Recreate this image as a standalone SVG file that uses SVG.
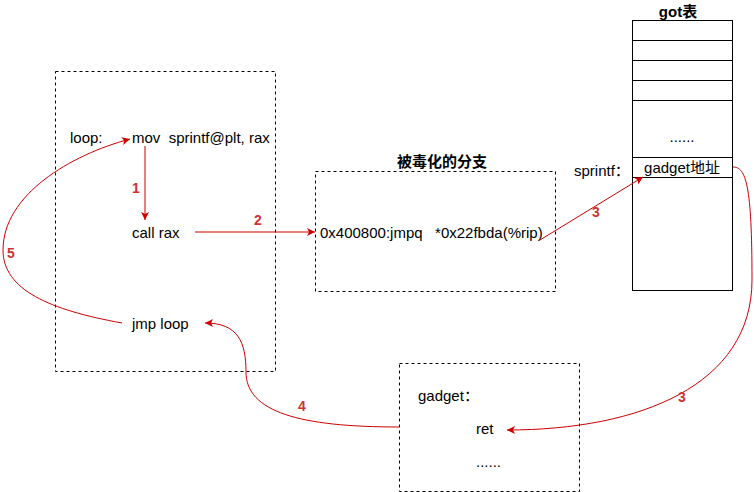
<svg xmlns="http://www.w3.org/2000/svg" width="754" height="492" viewBox="0 0 754 492">
<style>
.t{font-family:"Liberation Sans",Arial,"Noto Sans CJK SC",sans-serif;font-size:15px;fill:#000}
.b{font-weight:bold}
.box{fill:#fff;stroke:#000;stroke-width:1;stroke-dasharray:3,3}
.cell{fill:#fff;stroke:#000;stroke-width:1}
.ln{fill:none;stroke:#CC0000;stroke-width:1}
.lb{font-family:"Liberation Sans",Arial,sans-serif;font-size:14px;font-weight:bold;fill:#CC3333}
</style>
<defs>
<marker id="ah" markerWidth="10" markerHeight="10" refX="8" refY="5" orient="auto" markerUnits="userSpaceOnUse">
<path d="M0,1 L8,5 L0,9 L2,5 Z" fill="#CC0000"/>
</marker>
</defs>
<rect width="754" height="492" fill="#fff"/>
<g id="loopbox">
<rect class="box" x="55.5" y="71.5" width="220" height="300"/>
<text class="t" x="70" y="143">loop:</text>
<text class="t" x="132" y="143" xml:space="preserve">mov  sprintf@plt, rax</text>
<text class="t" x="132" y="238">call rax</text>
<text class="t" x="132" y="329">jmp loop</text>
</g>
<g id="poisoned">
<rect class="box" x="315.5" y="171.5" width="240" height="120"/>
<text class="t b" x="442" y="167" text-anchor="middle">被毒化的分支</text>
<text class="t" x="320" y="238" xml:space="preserve">0x400800:jmpq   *0x22fbda(%rip)</text>
</g>
<g id="got">
<text class="t b" x="678" y="17" text-anchor="middle">got表</text>
<rect class="cell" x="632.5" y="20.5" width="100" height="20"/>
<rect class="cell" x="632.5" y="40.5" width="100" height="20"/>
<rect class="cell" x="632.5" y="60.5" width="100" height="20"/>
<rect class="cell" x="632.5" y="80.5" width="100" height="20"/>
<rect class="cell" x="632.5" y="100.5" width="100" height="57"/>
<text class="t" x="682" y="142" text-anchor="middle">......</text>
<rect class="cell" x="632.5" y="157.5" width="100" height="20"/>
<text class="t" x="682" y="173" text-anchor="middle">gadget地址</text>
<rect class="cell" x="632.5" y="177.5" width="100" height="113"/>
<text class="t" x="574" y="176">sprintf：</text>
</g>
<g id="gadget">
<rect class="box" x="399.5" y="363.5" width="180" height="128"/>
<text class="t" x="418" y="401">gadget：</text>
<text class="t" x="476" y="434">ret</text>
<text class="t" x="476" y="467">......</text>
</g>
<g id="connectors">
<path class="ln" d="M145 146 L145 220" marker-end="url(#ah)"/>
<text class="lb" x="136" y="193" text-anchor="middle">1</text>
<path class="ln" d="M195 232 L315 232" marker-end="url(#ah)"/>
<text class="lb" x="258" y="225" text-anchor="middle">2</text>
<path class="ln" d="M540 240 L643 177" marker-end="url(#ah)"/>
<text class="lb" x="596" y="217" text-anchor="middle">3</text>
<path class="ln" d="M733 167 C746 167 752 185 752 280 C752 385 640 430 507 430" marker-end="url(#ah)"/>
<text class="lb" x="682" y="402" text-anchor="middle">3</text>
<path class="ln" d="M399 427 C300 427 246 412 246 372 C246 342 238 323 205 323" marker-end="url(#ah)"/>
<text class="lb" x="302" y="411" text-anchor="middle">4</text>
<path class="ln" d="M122 323 C50 310 3 290 3 250 C3 195 70 155 130 139" marker-end="url(#ah)"/>
<text class="lb" x="11" y="258" text-anchor="middle">5</text>
</g>
</svg>
